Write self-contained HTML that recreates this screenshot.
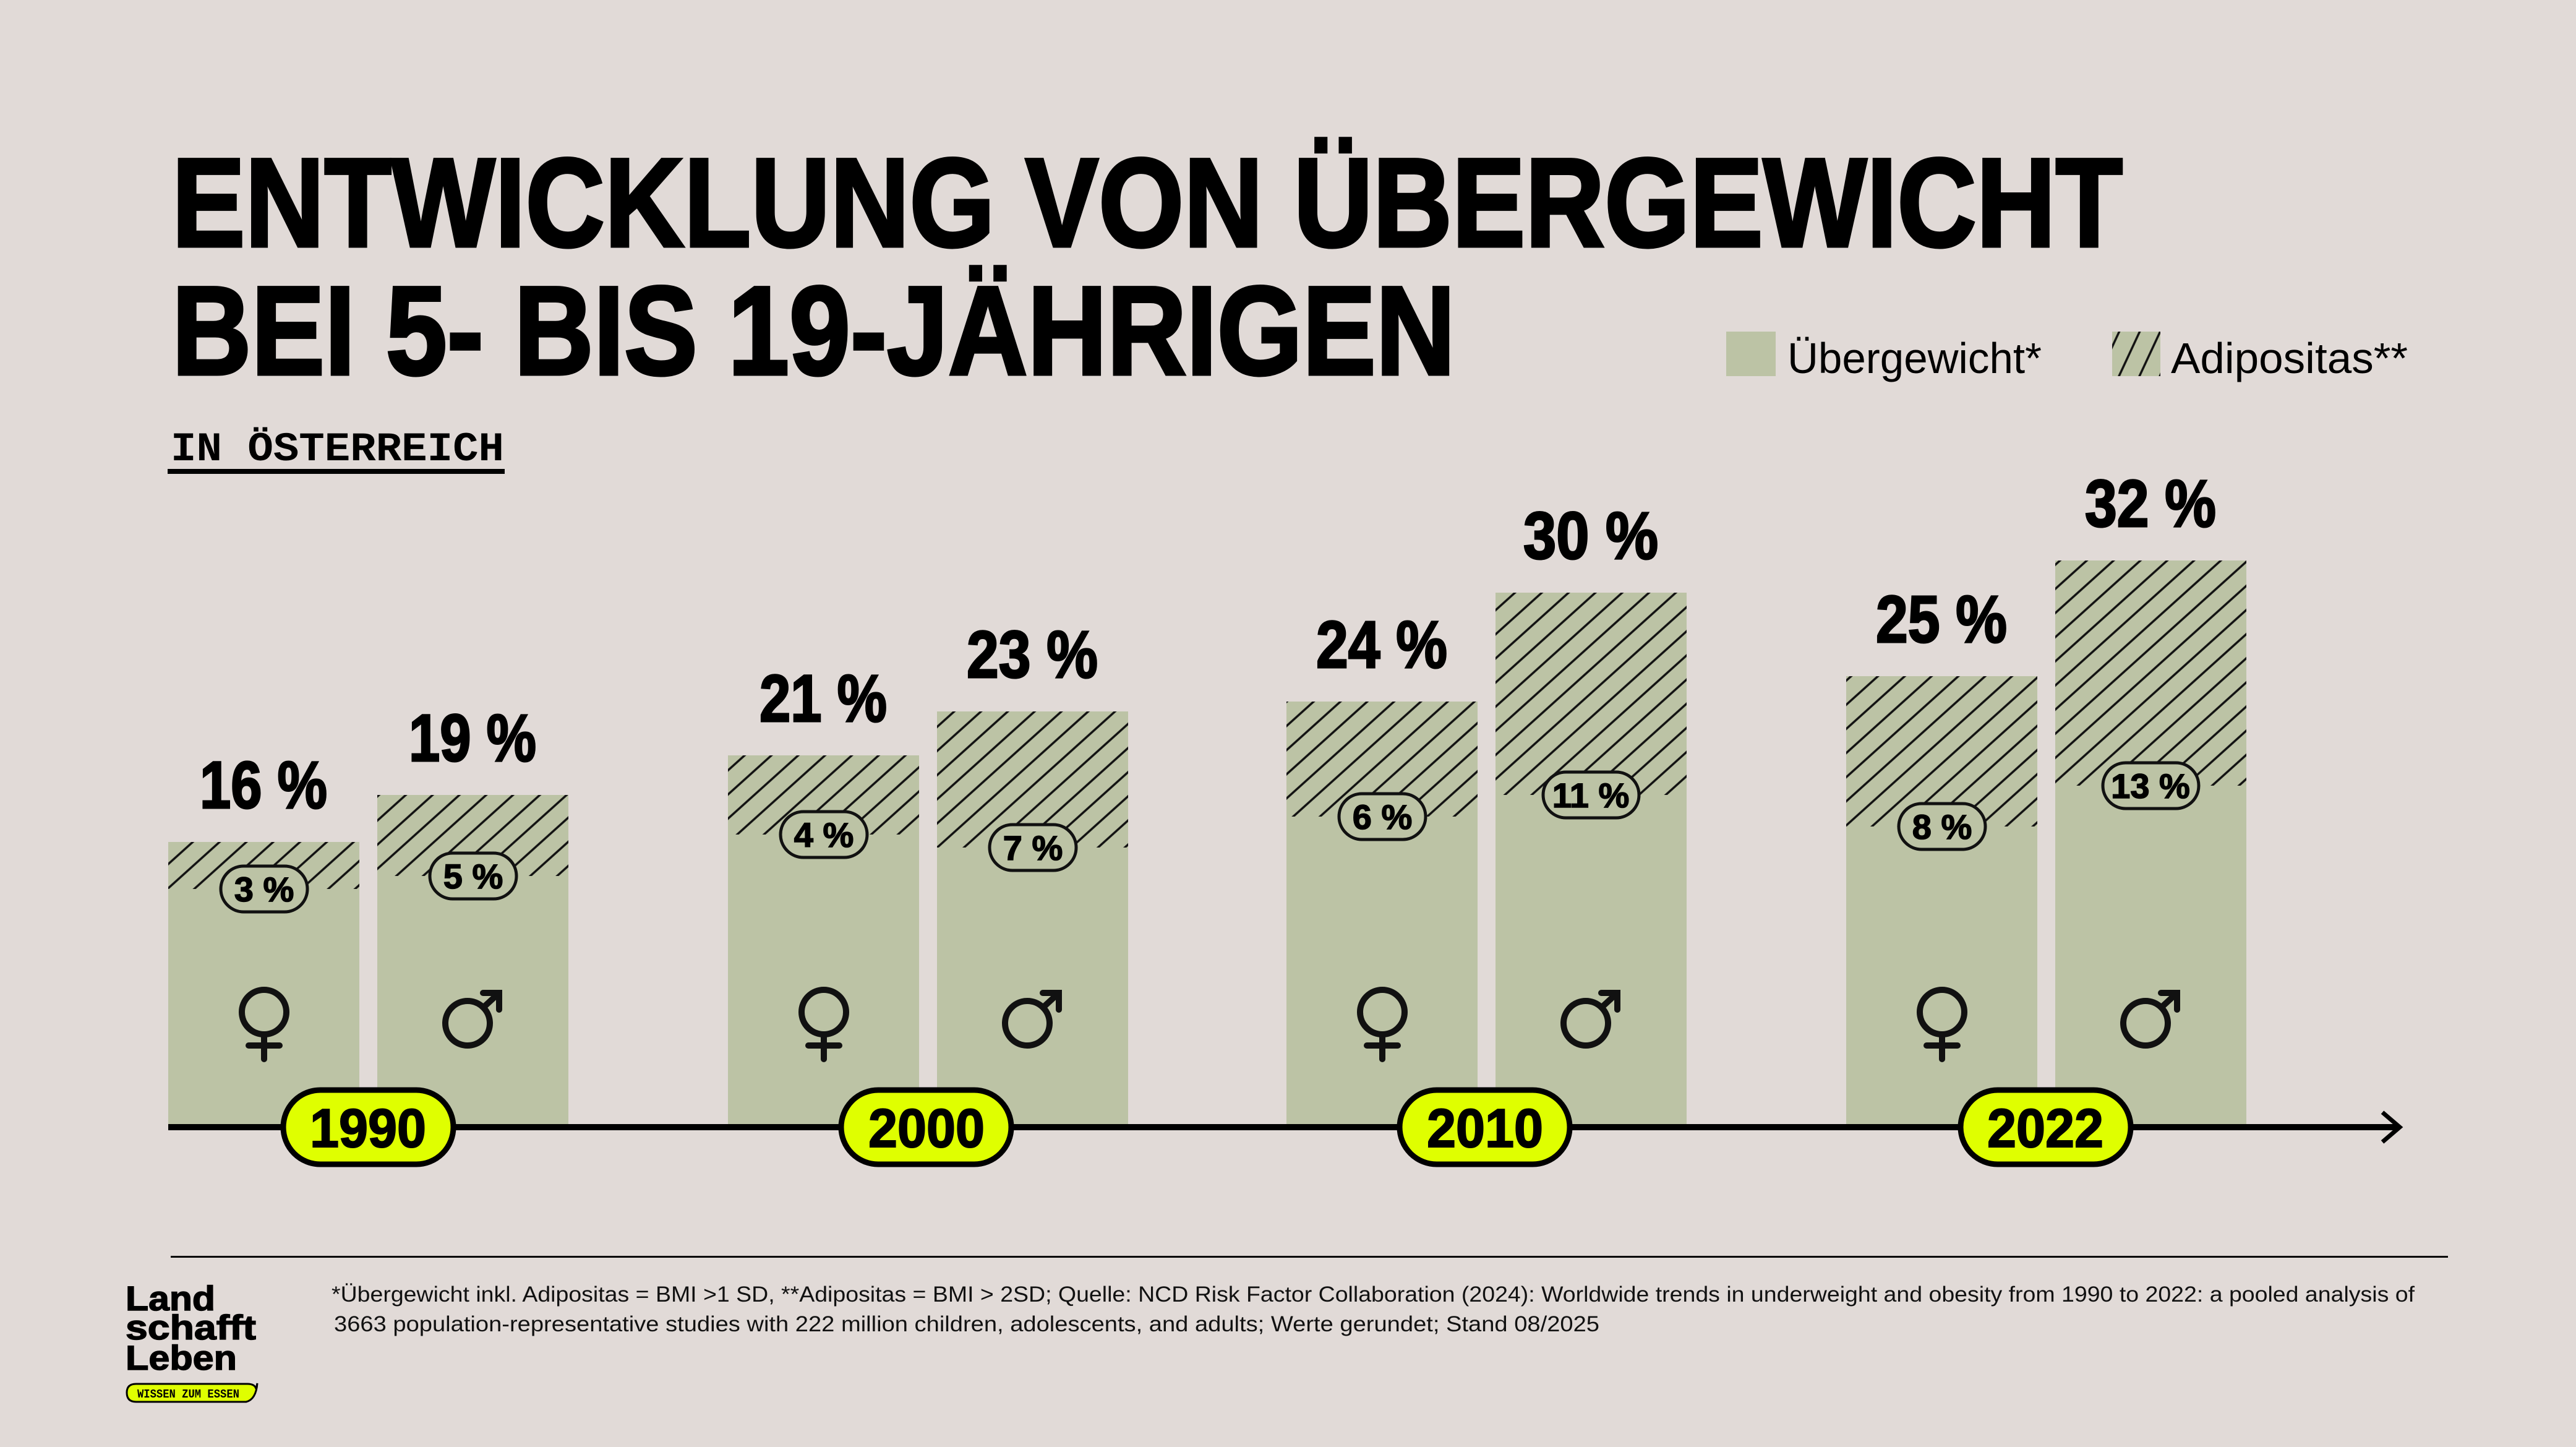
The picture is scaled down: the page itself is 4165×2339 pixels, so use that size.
<!DOCTYPE html>
<html><head><meta charset="utf-8"><style>
html,body{margin:0;padding:0;background:#e1dad7;}
svg{display:block}
</style></head><body>
<svg width="4165" height="2339" viewBox="0 0 4165 2339" xmlns="http://www.w3.org/2000/svg">
<defs>
<pattern id="h" width="29" height="29" patternUnits="userSpaceOnUse" patternTransform="rotate(48)">
<rect width="29" height="29" fill="#bcc3a5"/>
<line x1="2" y1="0" x2="2" y2="29" stroke="#111" stroke-width="3.5"/>
</pattern>
<pattern id="hl" width="30" height="30" patternUnits="userSpaceOnUse" patternTransform="rotate(25)">
<rect width="30" height="30" fill="#bcc3a5"/>
<line x1="2" y1="0" x2="2" y2="30" stroke="#111" stroke-width="3.5"/>
</pattern>
<g id="fem" fill="none" stroke="#111" stroke-width="10" stroke-linecap="round">
<circle cx="0" cy="1636" r="36"/>
<line x1="0" y1="1672" x2="0" y2="1712"/>
<line x1="-25" y1="1690" x2="25" y2="1690"/>
</g>
<g id="mal" fill="none" stroke="#111" stroke-width="10" stroke-linecap="round">
<circle cx="-9" cy="1654" r="36"/>
<line x1="17" y1="1628" x2="42" y2="1605"/>
<polyline points="16,1605 42,1605 42,1632"/>
</g>
</defs>
<rect width="4165" height="2339" fill="#e1dad7"/>
<g font-family="Liberation Sans, sans-serif" font-weight="bold" fill="#000" stroke="#000" stroke-width="5">
<text x="278" y="398" font-size="204" textLength="3154" lengthAdjust="spacingAndGlyphs">ENTWICKLUNG VON ÜBERGEWICHT</text>
<text x="278" y="605" font-size="204" textLength="2075" lengthAdjust="spacingAndGlyphs">BEI 5- BIS 19-JÄHRIGEN</text>
</g>
<text x="276" y="744" font-family="Liberation Mono, monospace" font-weight="bold" font-size="66" textLength="539" lengthAdjust="spacingAndGlyphs">IN ÖSTERREICH</text>
<rect x="271" y="758" width="545" height="8" fill="#000"/>
<!-- legend -->
<rect x="2791" y="536" width="80" height="72" fill="#bcc3a5"/>
<text x="2890" y="603" font-family="Liberation Sans, sans-serif" font-size="70" textLength="411" lengthAdjust="spacingAndGlyphs">Übergewicht*</text>
<rect x="3415" y="536" width="78" height="72" fill="url(#hl)"/>
<text x="3510" y="603" font-family="Liberation Sans, sans-serif" font-size="70" textLength="383" lengthAdjust="spacingAndGlyphs">Adipositas**</text>
<!-- bars -->
<g>
<rect x="272" y="1361" width="309" height="461" fill="#bcc3a5"/><rect x="272" y="1361" width="309" height="76" fill="url(#h)"/>
<rect x="610" y="1285" width="309" height="537" fill="#bcc3a5"/><rect x="610" y="1285" width="309" height="131" fill="url(#h)"/>
<rect x="1177" y="1221" width="309" height="601" fill="#bcc3a5"/><rect x="1177" y="1221" width="309" height="128" fill="url(#h)"/>
<rect x="1515" y="1150" width="309" height="672" fill="#bcc3a5"/><rect x="1515" y="1150" width="309" height="220" fill="url(#h)"/>
<rect x="2080" y="1134" width="309" height="688" fill="#bcc3a5"/><rect x="2080" y="1134" width="309" height="186" fill="url(#h)"/>
<rect x="2418" y="958" width="309" height="864" fill="#bcc3a5"/><rect x="2418" y="958" width="309" height="327" fill="url(#h)"/>
<rect x="2985" y="1093" width="309" height="729" fill="#bcc3a5"/><rect x="2985" y="1093" width="309" height="243" fill="url(#h)"/>
<rect x="3323" y="906" width="309" height="916" fill="#bcc3a5"/><rect x="3323" y="906" width="309" height="364" fill="url(#h)"/>
</g>
<!-- big labels -->
<g font-family="Liberation Sans, sans-serif" font-weight="bold" font-size="108" text-anchor="middle" fill="#000" stroke="#000" stroke-width="3" lengthAdjust="spacingAndGlyphs">
<text x="426" y="1306" textLength="206" lengthAdjust="spacingAndGlyphs">16 %</text>
<text x="764" y="1230" textLength="206" lengthAdjust="spacingAndGlyphs">19 %</text>
<text x="1331" y="1166" textLength="206" lengthAdjust="spacingAndGlyphs">21 %</text>
<text x="1669" y="1095" textLength="212" lengthAdjust="spacingAndGlyphs">23 %</text>
<text x="2234" y="1079" textLength="212" lengthAdjust="spacingAndGlyphs">24 %</text>
<text x="2572" y="903" textLength="218" lengthAdjust="spacingAndGlyphs">30 %</text>
<text x="3139" y="1038" textLength="212" lengthAdjust="spacingAndGlyphs">25 %</text>
<text x="3477" y="851" textLength="212" lengthAdjust="spacingAndGlyphs">32 %</text>
</g>
<!-- small pills -->
<g fill="#bcc3a5" stroke="#111" stroke-width="5">
<rect x="357" y="1400" width="140" height="74" rx="37"/>
<rect x="695" y="1379" width="140" height="74" rx="37"/>
<rect x="1262" y="1312" width="140" height="74" rx="37"/>
<rect x="1600" y="1333" width="140" height="74" rx="37"/>
<rect x="2165" y="1283" width="140" height="74" rx="37"/>
<rect x="2495" y="1248" width="155" height="74" rx="37"/>
<rect x="3070" y="1299" width="140" height="74" rx="37"/>
<rect x="3400" y="1233" width="155" height="74" rx="37"/>
</g>
<g font-family="Liberation Sans, sans-serif" font-weight="bold" font-size="56" text-anchor="middle" fill="#000" stroke="#000" stroke-width="1.5">
<text x="427" y="1457">3 %</text>
<text x="765" y="1436">5 %</text>
<text x="1332" y="1369">4 %</text>
<text x="1670" y="1390">7 %</text>
<text x="2235" y="1340">6 %</text>
<text x="2572" y="1305">11 %</text>
<text x="3140" y="1356">8 %</text>
<text x="3477" y="1290">13 %</text>
</g>
<!-- gender symbols -->
<use href="#fem" x="427"/><use href="#mal" x="765"/>
<use href="#fem" x="1332"/><use href="#mal" x="1670"/>
<use href="#fem" x="2235"/><use href="#mal" x="2573"/>
<use href="#fem" x="3140"/><use href="#mal" x="3478"/>
<!-- axis -->
<rect x="272" y="1817" width="3605" height="10" fill="#000"/>
<polyline points="3852,1798 3880,1822 3852,1846" fill="none" stroke="#000" stroke-width="7"/>
<g fill="#dfff00" stroke="#000" stroke-width="9">
<rect x="458" y="1762" width="275" height="120" rx="60"/>
<rect x="1360" y="1762" width="275" height="120" rx="60"/>
<rect x="2263" y="1762" width="275" height="120" rx="60"/>
<rect x="3170" y="1762" width="275" height="120" rx="60"/>
</g>
<g font-family="Liberation Sans, sans-serif" font-weight="bold" font-size="88" text-anchor="middle" fill="#000" stroke="#000" stroke-width="2">
<text x="595" y="1854" textLength="188" lengthAdjust="spacingAndGlyphs">1990</text>
<text x="1498" y="1854" textLength="188" lengthAdjust="spacingAndGlyphs">2000</text>
<text x="2401" y="1854" textLength="188" lengthAdjust="spacingAndGlyphs">2010</text>
<text x="3307" y="1854" textLength="188" lengthAdjust="spacingAndGlyphs">2022</text>
</g>
<!-- footer -->
<rect x="276" y="2030" width="3682" height="3" fill="#000"/>
<g font-family="Liberation Sans, sans-serif" font-size="35" fill="#111">
<text x="536" y="2104" textLength="3368" lengthAdjust="spacingAndGlyphs">*Übergewicht inkl. Adipositas = BMI &gt;1 SD, **Adipositas = BMI &gt; 2SD; Quelle: NCD Risk Factor Collaboration (2024): Worldwide trends in underweight and obesity from 1990 to 2022: a pooled analysis of</text>
<text x="540" y="2152" textLength="2046" lengthAdjust="spacingAndGlyphs">3663 population-representative studies with 222 million children, adolescents, and adults; Werte gerundet; Stand 08/2025</text>
</g>
<g font-family="Liberation Sans, sans-serif" font-weight="bold" font-size="56" fill="#000" stroke="#000" stroke-width="1.5">
<text x="203" y="2118" textLength="145" lengthAdjust="spacingAndGlyphs">Land</text>
<text x="203" y="2165" textLength="211" lengthAdjust="spacingAndGlyphs">schafft</text>
<text x="203" y="2214" textLength="180" lengthAdjust="spacingAndGlyphs">Leben</text>
</g>
<path d="M220,2237 H400 Q412,2237 414,2245 L416,2236 Q414,2262 398,2266 H220 Q205,2266 205,2251 Q205,2237 220,2237 Z" fill="#dfff00" stroke="#000" stroke-width="3"/>
<text x="222" y="2259" font-family="Liberation Mono, monospace" font-weight="bold" font-size="19" textLength="165" lengthAdjust="spacingAndGlyphs">WISSEN ZUM ESSEN</text>
</svg>
</body></html>
